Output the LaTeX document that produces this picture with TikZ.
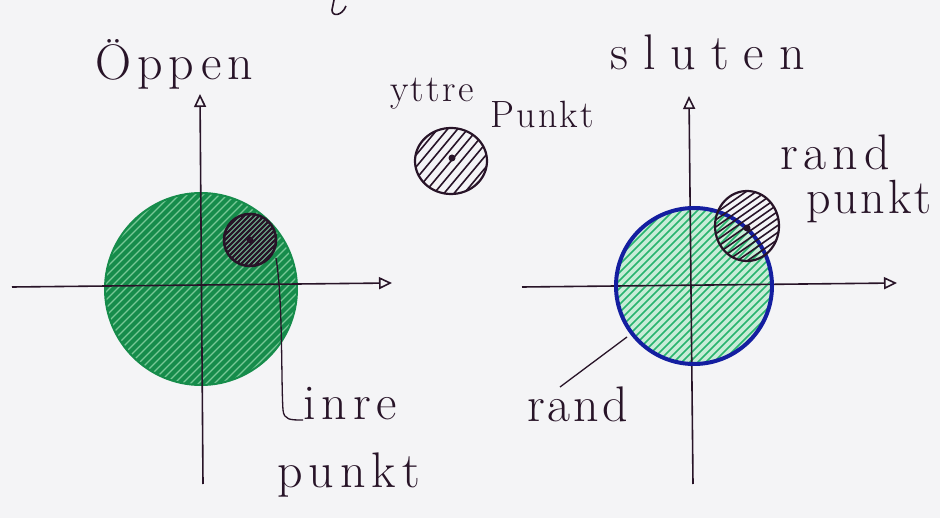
\documentclass[tikz,border=0pt]{standalone}
\usepackage{fontspec}
\usetikzlibrary{arrows.meta,calc}
\newfontfamily\handA[LetterSpace=6]{Latin Modern Roman}
\newfontfamily\handB[LetterSpace=12]{Latin Modern Roman}
\newfontfamily\handC[LetterSpace=30]{Latin Modern Roman}
\definecolor{paper}{RGB}{244,244,246}
\definecolor{ink}{RGB}{40,20,40}
\definecolor{gdark}{RGB}{22,140,75}
\definecolor{glight}{RGB}{120,200,150}
\definecolor{gline}{RGB}{40,180,110}
\definecolor{gtint}{RGB}{200,236,215}
\definecolor{bluerim}{RGB}{20,30,160}
\tikzset{
  axis/.style={ink, line width=1.6pt, -{Triangle[open, length=13pt, width=12pt, line width=1.6pt]}},
  handtxt/.style={ink, inner sep=0pt, anchor=base west},
  leader/.style={ink, line width=1.3pt},
  rim/.style={ink, line width=2.2pt},
  hatch/.style={ink, line width=1.6pt},
}
\newcommand{\bigtxt}[1]{\handB\fontsize{50}{52}\selectfont#1}
\begin{document}
\begin{tikzpicture}[x=1pt,y=-1pt]
\useasboundingbox[fill=paper] (0,0) rectangle (940,518);

% ---------------- left diagram (open set) ----------------
\coordinate (oL) at (201,289);
\begin{scope}
  \clip (oL) circle (96);
  \fill[gdark] (oL) circle (96);
  \foreach \i in {-220,-212,...,220}
    \draw[glight, line width=1.4pt] ($(oL)+(\i-130,130)$) -- ($(oL)+(\i+130,-130)$);
\end{scope}
\draw[gdark, line width=2pt] (oL) circle (96);

\coordinate (lxS) at (12,287);
\coordinate (lxE) at (392,283);
\coordinate (lyS) at (203,484);
\coordinate (lyE) at (200,94);
\draw[axis] (lxS) -- (lxE);
\draw[axis] (lyS) -- (lyE);

% inner point circle
\coordinate (inC) at (250,240);
\begin{scope}
  \clip (inC) circle (26);
  \fill[white!40!gdark] (inC) circle (26);
  \foreach \i in {-60,-55,...,60}
    \draw[hatch, line width=2.4pt] ($(inC)+(\i-40,40)$) -- ($(inC)+(\i+40,-40)$);
\end{scope}
\draw[rim, line width=2.6pt] (inC) circle (26);
\fill[ink] (inC) circle (3.5);

\node[handtxt] (inre) at (303,420) {\bigtxt{inre}};
\node[handtxt] (punktA) at (277,487) {\bigtxt{punkt}};
\coordinate (inLeadS) at (276,258);
\draw[leader] (inLeadS) .. controls (283,300) and (281,380) .. (283,410)
  .. controls (284,420) and (290,420) .. (inre.base west);

\node[handtxt] (oppen) at (95,80) {\handB\fontsize{50}{52}\selectfont Öppen};

% ---------------- exterior point ----------------
\coordinate (exC) at (451,161);
\begin{scope}
  \clip (exC) ellipse (36 and 33);
  \foreach \i in {-80,-70,...,80}
    \draw[hatch] ($(exC)+(\i-40,48)$) -- ($(exC)+(\i+40,-48)$);
\end{scope}
\draw[rim] (exC) ellipse (36 and 33);
\fill[ink] (452,158) circle (3.5);
\node[handtxt] (yttre) at (390,102) {\handA\fontsize{38}{40}\selectfont yttre};
\node[handtxt] (punktB) at (490,128) {\handA\fontsize{38}{40}\selectfont Punkt};

\draw[leader, line width=1.6pt] (334,0) -- (332,10) .. controls (332,17) and (342,16) .. (346,6);

% ---------------- right diagram (closed set) ----------------
\coordinate (oR) at (694,286);
\begin{scope}
  \clip (oR) circle (78);
  \fill[gtint] (oR) circle (78);
  \foreach \i in {-200,-192,...,200}
    \draw[gline, line width=1.6pt] ($(oR)+(\i-110,110)$) -- ($(oR)+(\i+110,-110)$);
\end{scope}

\coordinate (rxS) at (522,287);
\coordinate (rxE) at (897,283);
\coordinate (ryS) at (693,484);
\coordinate (ryE) at (689,96);
\draw[axis] (rxS) -- (rxE);
\draw[axis] (ryS) -- (ryE);

\draw[bluerim, line width=4pt] (oR) circle (78);

\coordinate (bdC) at (747,226);
\begin{scope}
  \clip (bdC) ellipse (32 and 35);
  \foreach \i in {-90,-80,...,90}
    \draw[hatch] ($(bdC)+(\i-60,42)$) -- ($(bdC)+(\i+60,-42)$);
\end{scope}
\draw[rim] (bdC) ellipse (32 and 35);
\fill[ink] (747,228) circle (3.5);

\node[handtxt] (randA) at (780,170) {\handB\fontsize{50}{52}\selectfont rand};
\node[handtxt] (punktC) at (806,214) {\handA\fontsize{48}{50}\selectfont punkt};

\node[handtxt] (randB) at (527,422) {\handA\fontsize{50}{52}\selectfont rand};
\coordinate (rimPt) at (627,337);
\coordinate (randLeadS) at (560,387);
\draw[leader] (randLeadS) -- (rimPt);

\node[handtxt] (sluten) at (610,70) {\handC\fontsize{50}{52}\selectfont sluten};
\end{tikzpicture}
\end{document}
